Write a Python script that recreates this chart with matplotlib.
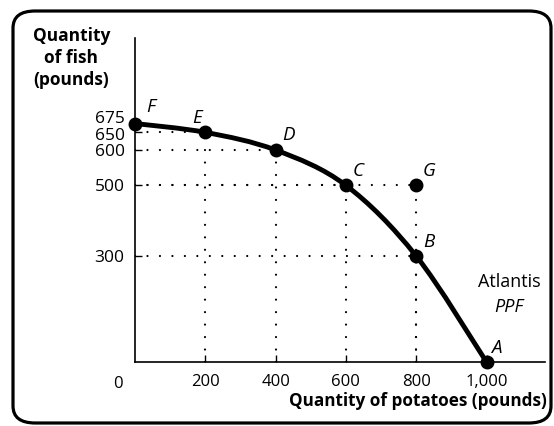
import matplotlib.pyplot as plt
from matplotlib.patches import FancyBboxPatch, PathPatch
from matplotlib.path import Path

plt.rcParams['font.family'] = ['Open Sans', 'DejaVu Sans']

# PPF points (potatoes, fish)
labels = ['A', 'B', 'C', 'D', 'E', 'F']
potatoes = [1000, 800, 600, 400, 200, 0]
fish = [0, 300, 500, 600, 650, 675]
g_point = (800, 500)
xticks = [200, 400, 600, 800, 1000]
xtick_labels = ['200', '400', '600', '800', '1,000']
yticks = [300, 500, 600, 650, 675]

fig = plt.figure(figsize=(5.54, 4.26), dpi=100)

# rounded frame
frame = FancyBboxPatch((13 / 554, 3 / 426), 538 / 554, 412 / 426,
                       boxstyle='round,pad=0,rounding_size=0.04',
                       transform=fig.transFigure, fill=False, lw=2.3, ec='black')
fig.patches.append(frame)

ax = fig.add_axes([135 / 554, 64 / 426, 410 / 554, 324 / 426])
ax.set_xlim(0, 410 / 0.3515)
ax.set_ylim(0, 324 / 0.3533)

for s in ['top', 'right']:
    ax.spines[s].set_visible(False)
for s in ['left', 'bottom']:
    ax.spines[s].set_linewidth(1.2)

# smooth curve through the points (Catmull-Rom -> Bezier)
pts = list(zip(potatoes[::-1], fish[::-1]))
verts = [pts[0]]
codes = [Path.MOVETO]
for i in range(len(pts) - 1):
    p0 = pts[i - 1] if i > 0 else pts[i]
    p1 = pts[i]
    p2 = pts[i + 1]
    p3 = pts[i + 2] if i + 2 < len(pts) else pts[i + 1]
    c1 = (p1[0] + (p2[0] - p0[0]) / 6, p1[1] + (p2[1] - p0[1]) / 6)
    c2 = (p2[0] - (p3[0] - p1[0]) / 6, p2[1] - (p3[1] - p1[1]) / 6)
    verts += [c1, c2, p2]
    codes += [Path.CURVE4] * 3
ax.add_patch(PathPatch(Path(verts, codes), fill=False, lw=3.5, ec='black',
                       capstyle='round', zorder=3))

dot = dict(color='black', lw=1.6, linestyle=(0, (0.01, 5.6)), dash_capstyle='round', zorder=2)
for x, y in zip(potatoes, fish):
    if 0 < x < 1000:
        ax.plot([0, x], [y, y], **dot)
        ax.plot([x, x], [0, y], **dot)
ax.plot([0, g_point[0]], [g_point[1]] * 2, **dot)
ax.plot([g_point[0]] * 2, [0, g_point[1]], **dot)

ax.plot(potatoes, fish, 'o', color='black', ms=9, zorder=4, clip_on=False)
ax.plot(*g_point, 'o', color='black', ms=9, zorder=4)

offsets = {'A': (3.6, 6.5), 'B': (5, 6.5), 'C': (5, 7), 'D': (5, 7),
           'E': (-9.5, 6.5), 'F': (8, 8.5)}
for lab, x, y in zip(labels, potatoes, fish):
    dx, dy = offsets[lab]
    ax.annotate(lab, (x, y), xytext=(dx, dy), textcoords='offset points',
                fontsize=13.5, style='italic', ha='left', va='baseline')
ax.annotate('G', g_point, xytext=(4.5, 7), textcoords='offset points',
            fontsize=13.5, style='italic', ha='left', va='baseline')

ax.set_xticks(xticks)
ax.set_xticklabels(xtick_labels)
ax.set_yticks(yticks)
ax.set_yticklabels([])
ax.tick_params(direction='in', length=5, width=1, labelsize=12)
ax.tick_params(axis='x', pad=9)

# y tick labels drawn by hand so the crowded top ones can be nudged apart
ylab_shift = {675: 5, 650: -1}
for v in yticks:
    ax.annotate(str(v), (0, v), xytext=(-7.5, ylab_shift.get(v, 0) - 4.3),
                textcoords='offset points', fontsize=12.5, ha='right', va='baseline')
ax.annotate('0', (0, 0), xytext=(-12, -18.5), textcoords='offset points',
            fontsize=12, ha='center', va='baseline')

fig.text(71.5 / 554, 1 - 27 / 426, 'Quantity\nof fish\n(pounds)', fontsize=12.5,
         fontweight='bold', ha='center', va='top', linespacing=1.3)
fig.text(547 / 554, 1 - 406 / 426, 'Quantity of potatoes (pounds)', fontsize=12.3,
         fontweight='bold', ha='right', va='baseline')
ax.text(1064, 212, 'Atlantis', fontsize=13, ha='center', va='baseline')
ax.text(1064, 141.5, 'PPF', fontsize=13, style='italic', ha='center', va='baseline')

fig.savefig('out.png', dpi=100)
